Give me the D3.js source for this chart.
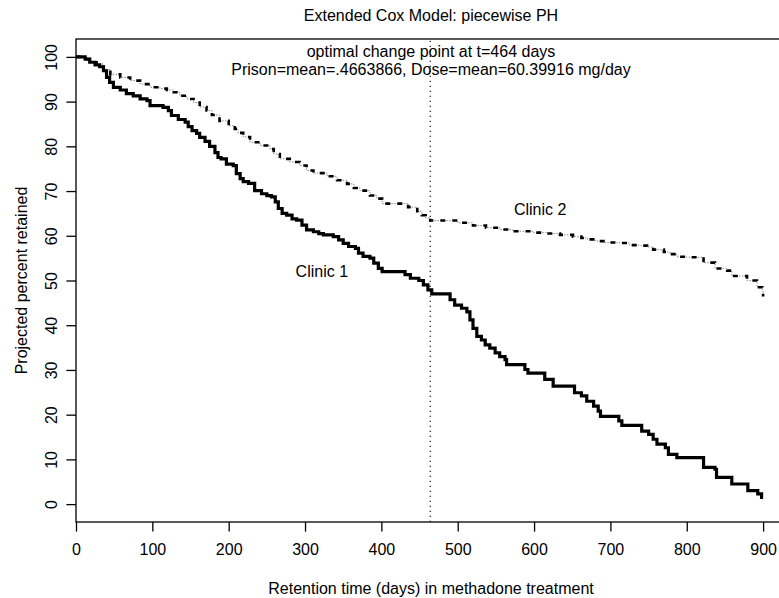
<!DOCTYPE html>
<html>
<head>
<meta charset="utf-8">
<script src="https://cdn.jsdelivr.net/npm/d3@7"></script>
<style>
  html, body { margin: 0; padding: 0; background: #fff; }
  svg { display: block; font-family: "Liberation Sans", Arial, Helvetica, sans-serif; }
</style>
</head>
<body>
<svg id="chart" width="779" height="598"></svg>
<script>
// Retention curves (percent still in treatment) by clinic, step functions
const clinic1Days = [0, 12, 18, 25, 31, 36, 40, 44, 49, 58, 66, 75, 84, 93, 97, 114, 121, 125, 134, 143, 147, 152, 158, 162, 169, 175, 182, 186, 190, 197, 206, 210, 215, 219, 226, 234, 243, 250, 256, 261, 265, 270, 276, 283, 289, 296, 302, 311, 318, 324, 337, 344, 350, 357, 366, 370, 376, 385, 390, 396, 401, 431, 438, 449, 455, 461, 466, 490, 496, 505, 512, 516, 520, 525, 531, 536, 542, 549, 555, 562, 564, 588, 592, 614, 625, 653, 662, 669, 678, 684, 687, 711, 715, 741, 750, 756, 761, 772, 776, 787, 822, 837, 839, 859, 880, 893, 898, 900];
const clinic1Pct = [100, 99.5, 98.8, 98.2, 97.8, 96.9, 95.4, 94.3, 93.2, 92.6, 91.8, 91.3, 90.6, 90.2, 89.1, 88.7, 88.0, 86.9, 86.0, 85.4, 84.4, 83.5, 82.9, 82.0, 81.1, 80.0, 78.6, 77.5, 77.2, 76.0, 75.7, 73.9, 72.8, 72.1, 71.7, 70.1, 69.4, 69.0, 68.7, 67.6, 66.1, 65.0, 64.6, 63.8, 63.5, 62.4, 61.3, 60.9, 60.5, 60.2, 59.8, 59.1, 58.3, 57.6, 57.2, 56.1, 55.4, 55.0, 53.9, 52.7, 52.0, 51.3, 50.5, 50.0, 49.0, 47.9, 47.0, 45.7, 44.5, 43.8, 43.0, 41.2, 39.3, 37.5, 36.7, 35.6, 34.9, 33.8, 33.0, 32.3, 31.2, 30.1, 29.3, 27.9, 26.4, 24.9, 24.2, 23.0, 21.9, 20.8, 19.6, 18.6, 17.6, 16.3, 15.6, 14.5, 13.4, 12.6, 11.1, 10.4, 8.2, 7.8, 6.0, 4.5, 3.0, 2.3, 1.5, 1.5];

const clinic2Days = [0, 12, 18, 27, 36, 45, 58, 71, 84, 97, 110, 119, 128, 136, 145, 154, 162, 171, 178, 188, 200, 208, 212, 219, 228, 241, 254, 259, 267, 280, 293, 302, 311, 329, 342, 355, 364, 372, 385, 394, 401, 435, 447, 453, 458, 464, 500, 520, 537, 555, 572, 599, 616, 634, 651, 662, 670, 680, 693, 709, 725, 740, 748, 756, 770, 778, 787, 800, 822, 837, 853, 859, 879, 892, 899, 900];
const clinic2Pct = [100, 99.5, 98.8, 98.4, 97.2, 96.1, 95.4, 94.7, 93.9, 93.2, 92.9, 92.6, 92.1, 91.3, 90.6, 89.8, 88.8, 88.0, 87.0, 85.7, 84.6, 83.9, 83.0, 82.1, 80.9, 80.2, 79.4, 78.3, 77.2, 76.5, 75.7, 74.6, 74.0, 73.3, 72.4, 71.6, 70.7, 70.1, 69.0, 68.3, 67.2, 66.4, 65.5, 64.6, 64.0, 63.4, 62.9, 62.3, 61.8, 61.4, 61.0, 60.7, 60.5, 60.2, 59.8, 59.5, 59.2, 58.8, 58.5, 58.4, 57.9, 57.8, 57.5, 56.9, 56.4, 55.9, 55.3, 55.2, 54.0, 52.7, 52.2, 51.0, 50.0, 48.5, 48.0, 46.4];

const xTicks = [0, 100, 200, 300, 400, 500, 600, 700, 800, 900];
const yTicks = [0, 10, 20, 30, 40, 50, 60, 70, 80, 90, 100];
const changePoint = 464;

const titleText = "Extended Cox Model: piecewise PH";
const noteLines = ["optimal change point at t=464 days", "Prison=mean=.4663866, Dose=mean=60.39916 mg/day"];
const xLabel = "Retention time (days) in methadone treatment";
const yLabel = "Projected percent retained";
const curveLabels = [{ text: "Clinic 1", day: 322, pct: 52.0 }, { text: "Clinic 2", day: 608, pct: 65.8 }];

const svg = d3.select("#chart");
const box = { left: 76, right: 786, top: 39, bottom: 522 };

const x = d3.scaleLinear().domain([0, 930]).range([box.left, box.right]);
const y = d3.scaleLinear().domain([-4, 104]).range([box.bottom, box.top]);

const fontSize = 16;

// Plot frame
svg.append("rect")
  .attr("x", box.left).attr("y", box.top)
  .attr("width", box.right - box.left).attr("height", box.bottom - box.top)
  .attr("fill", "none").attr("stroke", "#000").attr("stroke-width", 1.3);

// Axes
const xAxis = svg.append("g")
  .attr("transform", `translate(0,${box.bottom})`)
  .call(d3.axisBottom(x).tickValues(xTicks).tickSize(9.6).tickPadding(12).tickFormat(d3.format("d")));
const yAxis = svg.append("g")
  .attr("transform", `translate(${box.left},0)`)
  .call(d3.axisLeft(y).tickValues(yTicks).tickSize(9.6).tickFormat(d3.format("d")));

[xAxis, yAxis].forEach(g => {
  g.select(".domain").remove();
  g.selectAll(".tick line").attr("stroke", "#000").attr("stroke-width", 1.3);
  g.selectAll(".tick text").attr("fill", "#000").style("font-size", fontSize + "px")
    .style("font-family", '"Liberation Sans", Arial, sans-serif');
});
xAxis.selectAll(".tick text").attr("dy", "0.71em");
// vertical reading tick labels on the left axis
yAxis.selectAll(".tick text")
  .attr("x", null).attr("dy", null)
  .attr("text-anchor", "middle")
  .attr("transform", "translate(-19,0) rotate(-90)")
  .attr("y", 0);

// Change-point marker
svg.append("line")
  .attr("x1", x(changePoint)).attr("x2", x(changePoint))
  .attr("y1", box.bottom).attr("y2", box.top)
  .attr("stroke", "#000").attr("stroke-width", 1.1)
  .attr("stroke-dasharray", "1.3 3.7");

const stepLine = d3.line()
  .x(d => x(d[0])).y(d => y(d[1]))
  .curve(d3.curveStepAfter);

const c1 = clinic1Days.map((d, i) => [d, clinic1Pct[i]]);
const c2 = clinic2Days.map((d, i) => [d, clinic2Pct[i]]);

// Clinic 2: thin underlying trace plus heavy dashes
svg.append("path").datum(c2)
  .attr("d", stepLine).attr("fill", "none")
  .attr("stroke", "#8a8a8a").attr("stroke-width", 1)
  .attr("stroke-dasharray", "1.5 1.5");
svg.append("path").datum(c2)
  .attr("d", stepLine).attr("fill", "none")
  .attr("stroke", "#000").attr("stroke-width", 2.6)
  .attr("stroke-dasharray", "5 7");

// Clinic 1: solid heavy step line
svg.append("path").datum(c1)
  .attr("d", stepLine).attr("fill", "none")
  .attr("stroke", "#000").attr("stroke-width", 3.2)
  .attr("stroke-linejoin", "miter");

// Curve labels
svg.selectAll(".curve-label").data(curveLabels).enter().append("text")
  .attr("class", "curve-label")
  .attr("x", d => x(d.day)).attr("y", d => y(d.pct))
  .attr("text-anchor", "middle").attr("dy", "0.35em")
  .style("font-size", fontSize + "px")
  .text(d => d.text);

// Title
svg.append("text")
  .attr("x", (box.left + box.right) / 2).attr("y", 21)
  .attr("text-anchor", "middle").style("font-size", fontSize + "px")
  .text(titleText);

// Annotation inside the plot
svg.selectAll(".note").data(noteLines).enter().append("text")
  .attr("class", "note")
  .attr("x", (box.left + box.right) / 2)
  .attr("y", (d, i) => 57 + i * 18)
  .attr("text-anchor", "middle").style("font-size", fontSize + "px")
  .text(d => d);

// Axis titles
svg.append("text")
  .attr("x", (box.left + box.right) / 2).attr("y", 594)
  .attr("text-anchor", "middle").style("font-size", fontSize + "px")
  .text(xLabel);
svg.append("text")
  .attr("transform", `translate(27,${(box.top + box.bottom) / 2}) rotate(-90)`)
  .attr("text-anchor", "middle").style("font-size", fontSize + "px")
  .text(yLabel);
</script>
</body>
</html>
